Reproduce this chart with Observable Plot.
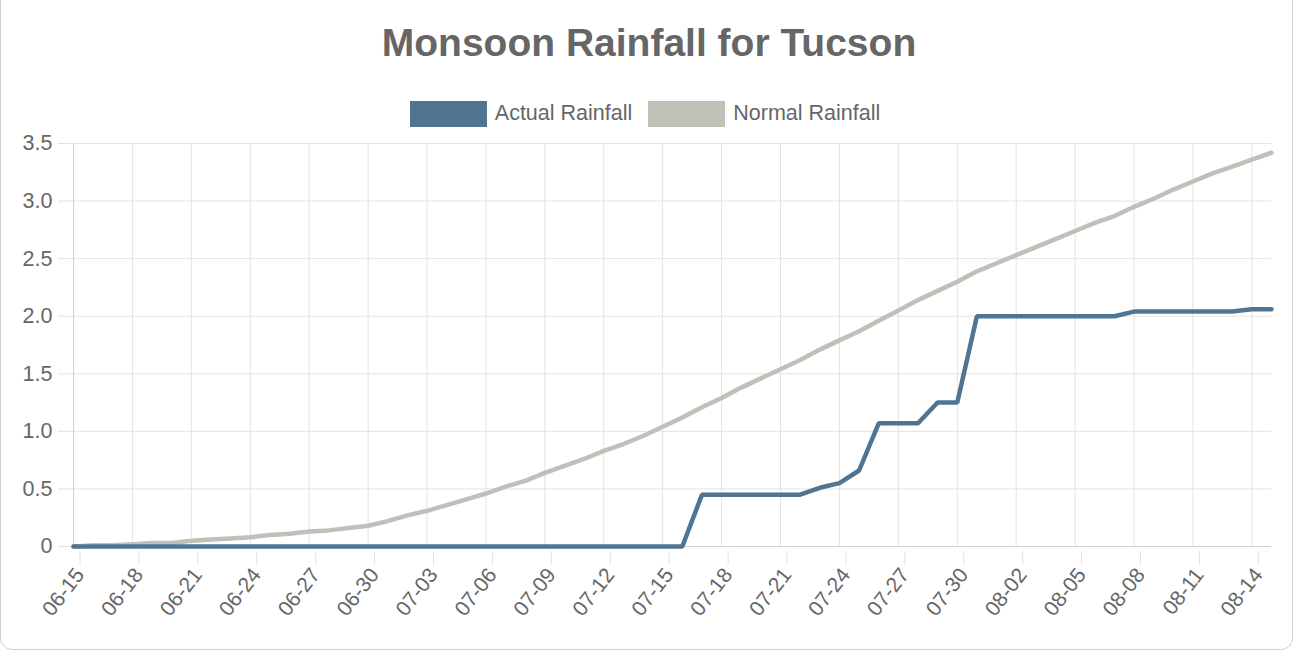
<!DOCTYPE html>
<html>
<head>
<meta charset="utf-8">
<script src="https://cdn.jsdelivr.net/npm/d3@7"></script>
<script src="https://cdn.jsdelivr.net/npm/@observablehq/plot@0.6"></script>
<style>
  html, body { margin: 0; padding: 0; background: #fff; width: 1298px; height: 660px; overflow: hidden; }
  body { font-family: "Liberation Sans", Arial, Helvetica, sans-serif; position: relative; }
  #card { position: absolute; left: 0; top: -20px; width: 1293px; height: 670px; border: 1px solid #cfcfcf; border-radius: 12px; box-sizing: border-box; }
  #title { position: absolute; left: 0; width: 1298px; top: 23px; text-align: center; font-size: 39px; line-height: 39px; font-weight: bold; color: #666; }
  #legend { position: absolute; left: -4px; width: 1298px; top: 100px; height: 27px; display: flex; justify-content: center; align-items: center; font-size: 21.5px; color: #666; }
  .item { display: flex; align-items: center; margin: 0 8px; }
  .sw { width: 77px; height: 26px; margin-right: 8px; box-sizing: border-box; }
  #chart { position: absolute; left: 0; top: 130px; }
</style>
</head>
<body>
<div id="card"></div>
<div id="title">Monsoon Rainfall for Tucson</div>
<div id="legend"></div>
<div id="chart"></div>
<script>
// Dates (MM-DD), 2020 season
const dates = [
  "06-15","06-16","06-17","06-18","06-19","06-20","06-21","06-22","06-23","06-24",
  "06-25","06-26","06-27","06-28","06-29","06-30","07-01","07-02","07-03","07-04",
  "07-05","07-06","07-07","07-08","07-09","07-10","07-11","07-12","07-13","07-14",
  "07-15","07-16","07-17","07-18","07-19","07-20","07-21","07-22","07-23","07-24",
  "07-25","07-26","07-27","07-28","07-29","07-30","07-31","08-01","08-02","08-03",
  "08-04","08-05","08-06","08-07","08-08","08-09","08-10","08-11","08-12","08-13",
  "08-14","08-15"
];
// Cumulative actual rainfall (inches)
const actual = [
  0,0,0,0,0,0,0,0,0,0,
  0,0,0,0,0,0,0,0,0,0,
  0,0,0,0,0,0,0,0,0,0,
  0,0,0.45,0.45,0.45,0.45,0.45,0.45,0.51,0.55,
  0.66,1.07,1.07,1.07,1.25,1.25,2.00,2.00,2.00,2.00,
  2.00,2.00,2.00,2.00,2.04,2.04,2.04,2.04,2.04,2.04,
  2.06,2.06
];
// Cumulative normal rainfall (inches)
const normal = [
  0.00,0.01,0.01,0.02,0.03,0.03,0.05,0.06,0.07,0.08,
  0.10,0.11,0.13,0.14,0.16,0.18,0.22,0.27,0.31,0.36,
  0.41,0.46,0.52,0.57,0.64,0.70,0.76,0.83,0.89,0.96,
  1.04,1.12,1.21,1.29,1.38,1.46,1.54,1.62,1.71,1.79,
  1.87,1.96,2.05,2.14,2.22,2.30,2.39,2.46,2.53,2.60,
  2.67,2.74,2.81,2.87,2.95,3.02,3.10,3.17,3.24,3.30,
  3.36,3.42
];
const xTickLabels = ["06-15","06-18","06-21","06-24","06-27","06-30","07-03","07-06","07-09","07-12",
  "07-15","07-18","07-21","07-24","07-27","07-30","08-02","08-05","08-08","08-11","08-14"];
const yTicks = [0, 0.5, 1.0, 1.5, 2.0, 2.5, 3.0, 3.5];
const seriesNames = ["Actual Rainfall", "Normal Rainfall"];
const seriesColors = ["#4f7592", "#c0c0b8"];

const parse = s => new Date(Date.UTC(2020, +s.slice(0,2) - 1, +s.slice(3,5)));
const rowsActual = dates.map((d, i) => ({date: parse(d), value: actual[i]}));
const rowsNormal = dates.map((d, i) => ({date: parse(d), value: normal[i]}));
const xTicks = xTickLabels.map(parse);
const gridColor = "#e3e3e3";
const axisColor = "#cfcfcf";

// legend
const legend = document.getElementById("legend");
seriesNames.forEach((n, i) => {
  const it = document.createElement("div");
  it.className = "item";
  it.innerHTML = `<div class="sw" style="background:${seriesColors[i]}"></div><span>${n}</span>`;
  legend.appendChild(it);
});

const chart = Plot.plot({
  width: 1298,
  height: 520,
  marginTop: 13,
  marginLeft: 73,
  marginRight: 27,
  marginBottom: 104,
  style: {fontFamily: "'Liberation Sans', Arial, sans-serif", background: "transparent"},
  x: {type: "utc", domain: [parse(dates[0]), parse(dates[dates.length - 1])]},
  y: {domain: [0, 3.5]},
  marks: [
    Plot.gridY(yTicks, {stroke: gridColor, strokeOpacity: 1}),
    Plot.gridX(xTicks, {stroke: gridColor, strokeOpacity: 1}),
    Plot.axisY({ticks: yTicks, tickSize: 15, tickPadding: 6, stroke: gridColor, strokeOpacity: 1,
      fill: "#666", fontSize: 21.5, tickFormat: d => d === 0 ? "0" : d.toFixed(1), label: null}),
    Plot.axisX({ticks: xTicks, tickSize: 14, stroke: gridColor, strokeOpacity: 1, tickRotate: -52,
      fill: "#666", fontSize: 21, tickFormat: d3.utcFormat("%m-%d"), label: null, dy: 5, dx: 6.5}),
    Plot.ruleX([parse(dates[0])], {stroke: axisColor}),
    Plot.ruleY([0], {stroke: axisColor}),
    Plot.line(rowsNormal, {x: "date", y: "value", stroke: seriesColors[1], strokeWidth: 4.5, strokeLinejoin: "miter"}),
    Plot.line(rowsActual, {x: "date", y: "value", stroke: seriesColors[0], strokeWidth: 4.5, strokeLinejoin: "miter"})
  ]
});
document.getElementById("chart").appendChild(chart);
</script>
</body>
</html>
